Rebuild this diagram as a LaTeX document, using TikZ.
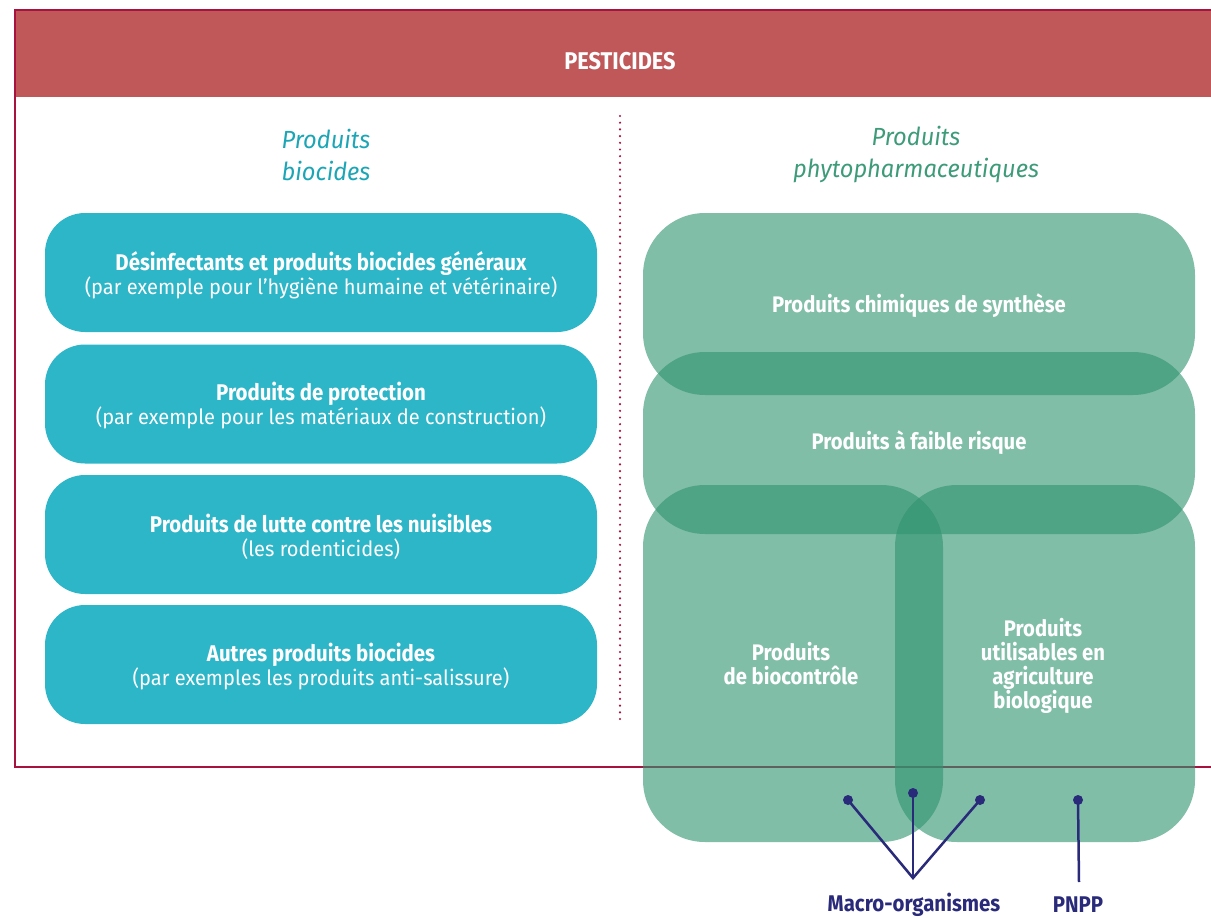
\documentclass[tikz,border=0pt]{standalone}
\usepackage{fontspec}
\setmainfont{Fira Sans}[FakeStretch=0.954, BoldFeatures={FakeStretch=0.90}, ItalicFeatures={FakeStretch=0.954}]
\definecolor{crim}{HTML}{A8123E}
\definecolor{hdr}{HTML}{C0585A}
\definecolor{biotl}{HTML}{2DB5C8}
\definecolor{biottl}{HTML}{1BA5B5}
\definecolor{grn}{RGB}{48,148,113}
\definecolor{grnttl}{HTML}{3D9B7A}
\definecolor{navy}{HTML}{2A2A7A}
\newcommand{\bhead}[1]{{\bfseries\fontsize{22.7}{24}\selectfont #1}}
\begin{document}
\begin{tikzpicture}[x=1pt,y=-1pt,
  every node/.style={inner sep=0pt, outer sep=0pt},
  bluebox/.style={fill=biotl, rounded corners=40pt, minimum width=552pt, minimum height=119pt},
  bluetxt/.style={text=white, align=center, font=\fontsize{21}{24}\selectfont},
  greenbox/.style={fill=grn, fill opacity=0.61, rounded corners=62pt},
  greentxt/.style={text=white, align=center, font=\bfseries\fontsize{22.5}{24}\selectfont},
  ttl/.style={align=center, font=\itshape\fontsize{24.8}{32}\selectfont},
  navydot/.style={circle, fill=navy, minimum size=10pt},
  navyline/.style={draw=navy, line width=2.5pt},
  navylbl/.style={text=navy, font=\bfseries\fontsize{22.7}{24}\selectfont}]
\useasboundingbox (0,0) rectangle (1211,918);
\clip (0,0) rectangle (1211,918);
% header and frame
\fill[hdr] (15,10) rectangle (1220,97);
\draw[crim, line width=2pt] (1220,767) -- (15,767) -- (15,10) -- (1220,10);
\node[text=white, font=\bfseries\fontsize{24.2}{26}\selectfont] (pest) at (620,61) {PESTICIDES};
% dotted separator
\coordinate (sepA) at (620,116);
\coordinate (sepB) at (620,722);
\draw[crim, line width=2.4pt, line cap=round, dash pattern=on 0pt off 6.7pt] (sepA) -- (sepB);
% titles
\node[ttl, text=biottl] (tbio) at (326,155) {Produits\\biocides};
\node[ttl, text=grnttl] (tphy) at (916,155) {Produits\\phytopharmaceutiques};
% left boxes
\node[bluebox] (b1) at (321,272.5) {};
\node[bluebox] (b2) at (321,404) {};
\node[bluebox] (b3) at (321,534.5) {};
\node[bluebox] (b4) at (321,664.5) {};
\node[bluetxt] (b1t) at (321,275) {\bhead{Désinfectants et produits biocides généraux}\\(par exemple pour l’hygiène humaine et vétérinaire)};
\node[bluetxt] (b2t) at (321,406) {\bhead{Produits de protection}\\(par exemple pour les matériaux de construction)};
\node[bluetxt] (b3t) at (321,536.5) {\bhead{Produits de lutte contre les nuisibles}\\(les rodenticides)};
\node[bluetxt] (b4t) at (321,666.5) {\bhead{Autres produits biocides}\\(par exemples les produits anti-salissure)};
% right overlapping boxes
\node[greenbox, minimum width=552pt, minimum height=182pt] (g1) at (919,304) {};
\node[greenbox, minimum width=552pt, minimum height=182pt] (g2) at (919,443) {};
\node[greenbox, minimum width=300pt, minimum height=357pt] (g3) at (793,663.5) {};
\node[greenbox, minimum width=300pt, minimum height=357pt] (g4) at (1045,663.5) {};
\node[greentxt] (g1t) at (919,306) {Produits chimiques de synthèse};
\node[greentxt] (g2t) at (919,443) {Produits à faible risque};
\node[greentxt] (g3t) at (791,664) {Produits\\de biocontrôle};
\node[greentxt] (g4t) at (1043,666) {Produits\\utilisables en\\agriculture\\biologique};
% macro-organismes / PNPP
\node[navydot] (d1) at (848,800) {};
\node[navydot] (d2) at (913,793) {};
\node[navydot] (d3) at (980,800) {};
\node[navydot] (d4) at (1078,800) {};
\coordinate (mj) at (913,878);
\coordinate (pj) at (1079,882);
\draw[navyline] (d1.center) -- (mj) -- (d3.center);
\draw[navyline] (d2.center) -- (mj);
\draw[navyline] (d4.center) -- (pj);
\node[navylbl] (macro) at (914,905) {Macro-organismes};
\node[navylbl] (pnpp) at (1078,905) {PNPP};
\end{tikzpicture}
\end{document}
